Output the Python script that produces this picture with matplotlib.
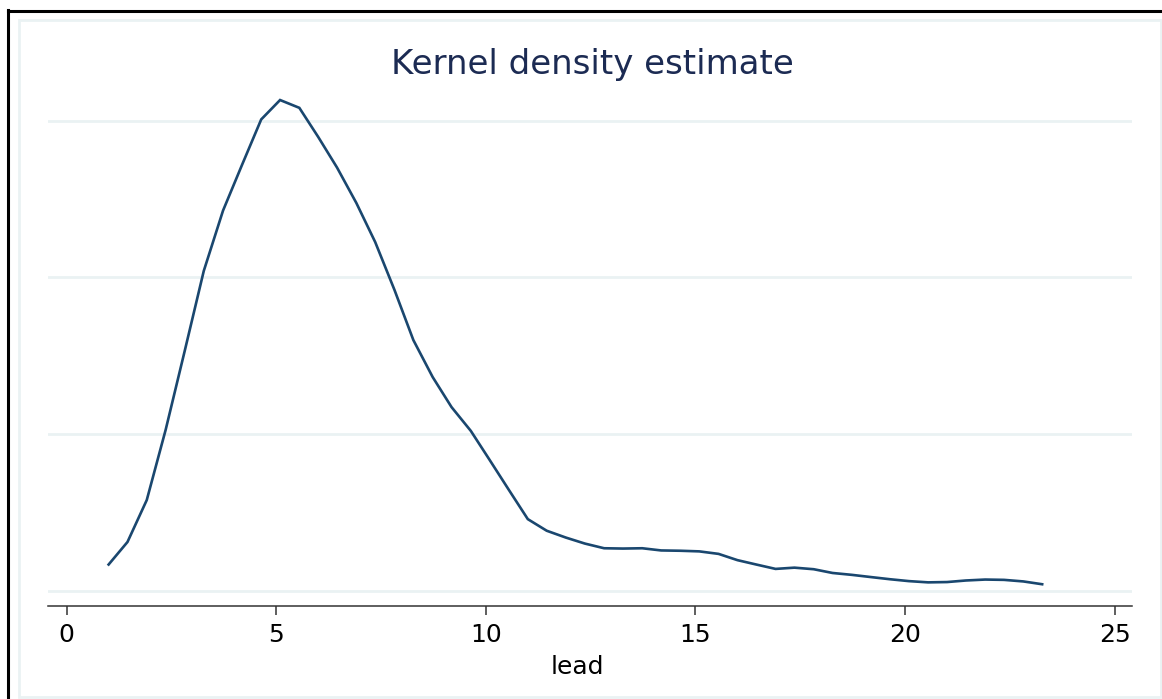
import matplotlib.pyplot as plt
from matplotlib.lines import Line2D
from matplotlib.patches import Rectangle

# Точки оценки плотности (переменная lead) и значения ядерной оценки
lead = [1.00, 1.45, 1.91, 2.36, 2.82, 3.27, 3.73, 4.18, 4.64, 5.09,
        5.55, 6.00, 6.45, 6.91, 7.36, 7.82, 8.27, 8.73, 9.18, 9.64,
        10.09, 10.55, 11.00, 11.45, 11.91, 12.36, 12.82, 13.27, 13.73, 14.18,
        14.64, 15.09, 15.55, 16.00, 16.45, 16.91, 17.36, 17.82, 18.27, 18.73,
        19.18, 19.64, 20.09, 20.55, 21.00, 21.45, 21.91, 22.36, 22.82, 23.27]
density = [0.0083, 0.0155, 0.0289, 0.0513, 0.0768, 0.1021, 0.1214, 0.1359, 0.1505, 0.1567,
           0.1542, 0.1449, 0.1351, 0.1238, 0.1113, 0.0960, 0.0800, 0.0682, 0.0586, 0.0510,
           0.0417, 0.0321, 0.0228, 0.0191, 0.0169, 0.0150, 0.0135, 0.0134, 0.0135, 0.0128,
           0.0127, 0.0125, 0.0117, 0.0097, 0.0083, 0.0069, 0.0073, 0.0068, 0.0056, 0.0050,
           0.0043, 0.0036, 0.0030, 0.0026, 0.0027, 0.0032, 0.0035, 0.0034, 0.0029, 0.0020]

x_ticks = [0, 5, 10, 15, 20, 25]
y_grid = [0, 0.05, 0.10, 0.15]

plt.rcParams['font.family'] = ['DejaVu Sans']

W, H = 1162, 699
fig = plt.figure(figsize=(W / 100, H / 100), dpi=100)
fig.patch.set_facecolor('white')

# Рамки вокруг графика
fig.add_artist(Rectangle((19 / W, 1 - 697 / H), (1161 - 19) / W, (697 - 20) / H,
                         transform=fig.transFigure, fill=False,
                         edgecolor='#eaf2f3', linewidth=2))
fig.add_artist(Line2D([7.5 / W, 7.5 / W], [0, 1 - 10 / H], transform=fig.transFigure,
                      color='black', linewidth=2.2))
fig.add_artist(Line2D([7.5 / W, 1], [1 - 10.5 / H, 1 - 10.5 / H], transform=fig.transFigure,
                      color='black', linewidth=2.2))

ax = fig.add_axes([48 / W, 1 - 606 / H, (1132 - 48) / W, (606 - 85) / H])
ax.set_facecolor('white')

ax.plot(lead, density, color='#1a476f', linewidth=1.9, solid_joinstyle='miter')

ax.set_xlim(-0.446, 25.413)
ax.set_ylim(-0.00495, 0.1615)

ax.set_yticks(y_grid)
ax.set_yticklabels([])
ax.tick_params(axis='y', length=0)
ax.grid(axis='y', color='#eaf2f3', linewidth=2)
ax.set_axisbelow(True)

ax.set_xticks(x_ticks)
ax.set_xticklabels([str(t) for t in x_ticks])
ax.tick_params(axis='x', length=6.5, width=1.1, color='#333333', pad=6,
               labelsize=18, labelcolor='black')

for side in ['left', 'right', 'top']:
    ax.spines[side].set_visible(False)
ax.spines['bottom'].set_color('#333333')
ax.spines['bottom'].set_linewidth(1.1)

# Подпись оси x
fig.text(577 / W, 1 - 667 / H, 'lead', ha='center', va='center', fontsize=18)

fig.text(592.5 / W, 1 - 74 / H, 'Kernel density estimate', ha='center', va='baseline',
         fontsize=24.5, color='#1c2b53')

fig.savefig('out.png', dpi=100)
